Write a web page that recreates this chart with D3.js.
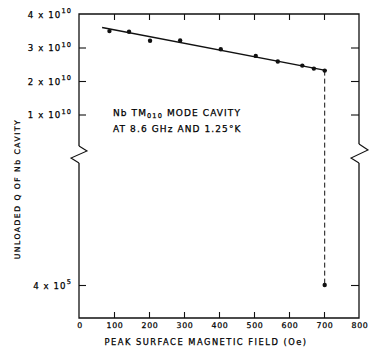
<!DOCTYPE html>
<html>
<head>
<meta charset="utf-8">
<script src="https://cdn.jsdelivr.net/npm/d3@7/dist/d3.min.js"></script>
<style>
  html, body { margin: 0; padding: 0; background: #fff; }
  svg { display: block; }
  text { font-family: "DejaVu Sans", sans-serif; fill: #000; stroke: #000; stroke-width: 0.25px; }
</style>
</head>
<body>
<svg id="chart" width="370" height="347"></svg>
<script>
// measured points: peak surface field (Oe) vs unloaded Q
const fieldOe = [87, 143, 203, 289, 405, 505, 568, 638, 671, 702];
const qValues = [3.49e10, 3.47e10, 3.20e10, 3.21e10, 2.95e10, 2.75e10, 2.58e10, 2.46e10, 2.37e10, 2.31e10];
// straight line drawn through the points
const fitField = [66, 708];
const fitQ = [3.60e10, 2.31e10];
// breakdown drop at 700 Oe
const dropField = 702;
const dropQTop = 2.31e10;
const dropQBottom = 4e5;

const xTicks = [0, 100, 200, 300, 400, 500, 600, 700, 800];
const yTicksUpper = [1e10, 2e10, 3e10, 4e10];
const yTickLabelsUpper = [['1 x 10', '10'], ['2 x 10', '10'], ['3 x 10', '10'], ['4 x 10', '10']];
const yTicksLower = [4e5];
const yTickLabelsLower = [['4 x 10', '5']];

const svg = d3.select('#chart');
const pL = 79, pR = 359, pT = 14, pB = 318;
const ink = '#111';

const x = d3.scaleLinear().domain([0, 800]).range([pL, pR]);
// upper section is linear in units of 1e10, lower section is a separate scale below the break
const yUp = d3.scaleLinear().domain([0, 4e10]).range([148, pT]);
const yLow = d3.scaleLinear().domain([0, 4e5]).range([pB, 285]);

// frame with breaks
const edge = d3.line();
svg.append('path')
  .attr('d', edge([[pL, 146], [pL, pT], [pR, pT], [pR, 144]]))
  .attr('fill', 'none').attr('stroke', ink).attr('stroke-width', 1.3);
svg.append('path')
  .attr('d', edge([[pL, 163], [pL, pB], [pR, pB], [pR, 163]]))
  .attr('fill', 'none').attr('stroke', ink).attr('stroke-width', 1.3);
svg.append('path')
  .attr('d', edge([[pL, 146], [pL + 8, 151], [pL - 8, 158], [pL, 163]]))
  .attr('fill', 'none').attr('stroke', ink).attr('stroke-width', 1.1);
svg.append('path')
  .attr('d', edge([[pR, 144], [pR + 9, 150], [pR - 8, 158], [pR, 163]]))
  .attr('fill', 'none').attr('stroke', ink).attr('stroke-width', 1.1);

// x ticks, bottom (with labels) and top
const inner = xTicks.slice(1, -1);
const gx = svg.append('g').attr('transform', `translate(0,${pB})`)
  .call(d3.axisBottom(x).tickValues(inner).tickSize(-6).tickFormat(''));
gx.select('.domain').remove();
gx.selectAll('line').attr('stroke', ink).attr('stroke-width', 1.1);
const gxt = svg.append('g').attr('transform', `translate(0,${pT})`)
  .call(d3.axisTop(x).tickValues(inner).tickSize(-6).tickFormat(''));
gxt.select('.domain').remove();
gxt.selectAll('line').attr('stroke', ink).attr('stroke-width', 1.1);

svg.selectAll('.xlab').data(xTicks).enter().append('text')
  .attr('x', d => x(d) + 1).attr('y', 327.5)
  .attr('text-anchor', 'middle')
  .style('font-size', '7.8px').style('letter-spacing', '0.7px')
  .text(d => d);

// y ticks on both sides
function yTickMarks(scale, vals) {
  const gl = svg.append('g').attr('transform', `translate(${pL},0)`)
    .call(d3.axisLeft(scale).tickValues(vals).tickSize(-7).tickFormat(''));
  gl.select('.domain').remove();
  gl.selectAll('line').attr('stroke', ink).attr('stroke-width', 1.1);
  const gr = svg.append('g').attr('transform', `translate(${pR},0)`)
    .call(d3.axisRight(scale).tickValues(vals).tickSize(-8).tickFormat(''));
  gr.select('.domain').remove();
  gr.selectAll('line').attr('stroke', ink).attr('stroke-width', 1.1);
}
yTickMarks(yUp, yTicksUpper.slice(0, 3));
yTickMarks(yLow, yTicksLower);

function yLabels(scale, vals, labels) {
  const t = svg.selectAll(null).data(vals).enter().append('text')
    .attr('x', 72).attr('y', d => scale(d) + 3.8)
    .attr('text-anchor', 'end')
    .style('font-size', '8.6px').style('letter-spacing', '1.1px');
  t.append('tspan').text((d, i) => labels[i][0]);
  t.append('tspan').attr('dy', -4.5).style('font-size', '6.6px').text((d, i) => labels[i][1]);
}
yLabels(yUp, yTicksUpper, yTickLabelsUpper);
yLabels(yLow, yTicksLower, yTickLabelsLower);

// axis titles
svg.append('text')
  .attr('x', 206).attr('y', 345).attr('text-anchor', 'middle')
  .style('font-size', '8.3px').style('letter-spacing', '1.5px')
  .text('PEAK SURFACE MAGNETIC FIELD (Oe)');
svg.append('text')
  .attr('transform', 'translate(20,189) rotate(-90)')
  .attr('text-anchor', 'middle')
  .style('font-size', '7.6px').style('letter-spacing', '1.5px')
  .text('UNLOADED Q OF Nb CAVITY');

// annotation
const note1 = svg.append('text').attr('x', 113).attr('y', 116)
  .style('font-size', '9px').style('letter-spacing', '1.1px');
note1.append('tspan').text('Nb TM');
note1.append('tspan').attr('dy', 2).style('font-size', '6.6px').text('010');
note1.append('tspan').attr('dy', -2).text(' MODE CAVITY');
svg.append('text').attr('x', 113).attr('y', 132)
  .style('font-size', '9px').style('letter-spacing', '1.1px')
  .text('AT 8.6 GHz AND 1.25°K');

// fitted line
const pts = fieldOe.map((f, i) => ({ f, q: qValues[i] }));
const fit = fitField.map((f, i) => ({ f, q: fitQ[i] }));
svg.append('path').datum(fit)
  .attr('fill', 'none').attr('stroke', ink).attr('stroke-width', 1.5)
  .attr('d', d3.line().x(d => x(d.f)).y(d => yUp(d.q)));

// drop to breakdown value
svg.append('line')
  .attr('x1', x(dropField)).attr('x2', x(dropField))
  .attr('y1', yUp(dropQTop)).attr('y2', yLow(dropQBottom))
  .attr('stroke', ink).attr('stroke-width', 1).attr('stroke-dasharray', '5,3');

svg.selectAll('.pt').data(pts).enter().append('circle')
  .attr('cx', d => x(d.f)).attr('cy', d => yUp(d.q)).attr('r', 2.2).attr('fill', ink);
svg.append('circle')
  .attr('cx', x(dropField)).attr('cy', yLow(dropQBottom)).attr('r', 2.2).attr('fill', ink);
</script>
</body>
</html>
